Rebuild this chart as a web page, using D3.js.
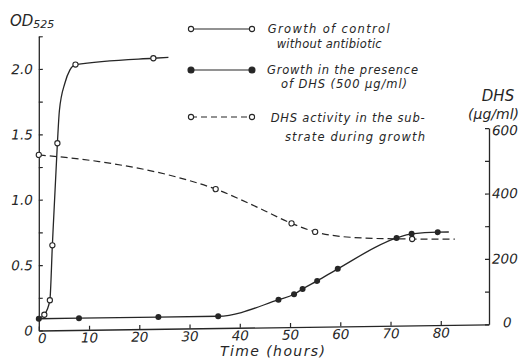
<!DOCTYPE html>
<html><head><meta charset="utf-8">
<script src="https://cdn.jsdelivr.net/npm/d3@7"></script>
<style>
html,body{margin:0;padding:0;background:#fff;}
svg{display:block;font-family:"DejaVu Sans",sans-serif;font-style:italic;}
</style></head><body>
<svg id="chart" width="522" height="363"></svg>
<script>
// ---- data ----
const controlTime = [0, 1.1, 2.2, 2.7, 3.7, 7.3, 22.8];
const controlOD   = [0.09, 0.12, 0.23, 0.65, 1.43, 2.03, 2.07];
const controlCurveTime = [0, 1.1, 2.2, 2.7, 3.7, 4.1, 5.2, 6.2, 7.3, 22.8, 25.8];
const controlCurveOD   = [0.09, 0.12, 0.23, 0.65, 1.43, 1.68, 1.89, 1.99, 2.03, 2.07, 2.075];

const dhsTime = [0, 8, 23.8, 35.7, 47.7, 50.8, 52.5, 55.4, 59.5, 71.2, 74.2, 79.4];
const dhsOD   = [0.09, 0.09, 0.09, 0.09, 0.21, 0.25, 0.29, 0.35, 0.44, 0.67, 0.70, 0.71];
const dhsCurveTime = [0, 8, 23.8, 35.7, 47.7, 50.8, 52.5, 55.4, 59.5, 71.2, 74.2, 79.4, 81.6];
const dhsCurveOD   = [0.09, 0.09, 0.09, 0.09, 0.21, 0.25, 0.29, 0.35, 0.44, 0.67, 0.70, 0.71, 0.71];

const activityTime  = [0, 35.2, 50.3, 55, 74.3];
const activityValue = [537, 425, 317, 290, 264];
const activityCurveTime  = [0, 12, 28, 35.2, 44, 50.3, 55, 62, 74.3, 82.8];
const activityCurveValue = [537, 514, 461, 425, 364, 317, 290, 272, 264, 262];

const timeTicks = [0, 10, 20, 30, 40, 50, 60, 70, 80];
const odTicks = [0, 0.25, 0.5, 0.75, 1, 1.25, 1.5, 1.75, 2, 2.25];
const odLabels = ["0", "", "0.5", "", "1.0", "", "1.5", "", "2.0", ""];
const dhsTicks = [0, 100, 200, 300, 400, 500, 600];
const dhsLabels = ["0", "", "200", "", "400", "", "600"];

const legendLabels = [
  ["Growth of control", "without antibiotic"],
  ["Growth in the presence", "of DHS (500 \u03bcg/ml)"],
  ["DHS activity in the sub-", "strate during growth"]
];

// ---- drawing ----
const INK = "#262626";
const svg = d3.select("#chart");
svg.append("rect").attr("width", 522).attr("height", 363).attr("fill", "#fff");

const x = d3.scaleLinear().domain([0, 89.6]).range([0, 450.2]);
const yL = d3.scaleLinear().domain([0, 2.25]).range([0, -294.2]);
const yR = d3.scaleLinear().domain([0, 600]).range([0, -196.2]);

// slight scan skew of the original
const g = svg.append("g").attr("transform", "translate(38.8,330.5) skewY(-0.79)");

function styleAxis(sel) {
  sel.selectAll("path.domain").attr("stroke", INK).attr("stroke-width", 1.3);
  sel.selectAll(".tick line").attr("stroke", INK).attr("stroke-width", 1.2);
  sel.selectAll(".tick text").attr("fill", INK).style("font-family", '"DejaVu Sans",sans-serif')
     .style("font-style", "italic").style("font-size", "13.5px");
}

const bottom = g.append("g").call(
  d3.axisBottom(x).tickValues(timeTicks).tickSizeInner(-4).tickSizeOuter(0).tickPadding(3).tickFormat(d3.format("d")));
styleAxis(bottom);
bottom.selectAll(".tick text").filter(d => d === 0).attr("x", 3);

const left = g.append("g").call(
  d3.axisLeft(yL).tickValues(odTicks).tickSizeInner(-4).tickSizeOuter(0).tickPadding(6)
    .tickFormat((d, i) => odLabels[i]));
styleAxis(left);

const right = g.append("g").attr("transform", `translate(${x(89.6)},0)`).call(
  d3.axisRight(yR).tickValues(dhsTicks).tickSizeInner(-4).tickSizeOuter(0).tickPadding(3)
    .tickFormat((d, i) => dhsLabels[i]));
styleAxis(right);
right.selectAll(".tick text").filter(d => d === 0).attr("x", 14).attr("dy", "0.2em");
right.selectAll(".tick text").filter(d => d === 600).attr("dy", "0.5em");

// lines
const lineCtrl = d3.line().x(i => x(controlCurveTime[i])).y(i => yL(controlCurveOD[i])).curve(d3.curveMonotoneX);
const lineDhs = d3.line().x(i => x(dhsCurveTime[i])).y(i => yL(dhsCurveOD[i])).curve(d3.curveMonotoneX);
const lineAct = d3.line().x(i => x(activityCurveTime[i])).y(i => yR(activityCurveValue[i])).curve(d3.curveMonotoneX);

g.append("path").attr("d", lineAct(d3.range(activityCurveTime.length)))
  .attr("fill", "none").attr("stroke", INK).attr("stroke-width", 1.2).attr("stroke-dasharray", "7,4");
g.append("path").attr("d", lineCtrl(d3.range(controlCurveTime.length)))
  .attr("fill", "none").attr("stroke", INK).attr("stroke-width", 1.3);
g.append("path").attr("d", lineDhs(d3.range(dhsCurveTime.length)))
  .attr("fill", "none").attr("stroke", INK).attr("stroke-width", 1.3);

// markers
g.selectAll("circle.act").data(d3.range(activityTime.length)).join("circle").attr("class", "act")
  .attr("cx", i => x(activityTime[i])).attr("cy", i => yR(activityValue[i])).attr("r", 2.6)
  .attr("fill", "#fff").attr("stroke", INK).attr("stroke-width", 1.1);
g.selectAll("circle.ctrl").data(d3.range(1, controlTime.length)).join("circle").attr("class", "ctrl")
  .attr("cx", i => x(controlTime[i])).attr("cy", i => yL(controlOD[i])).attr("r", 2.6)
  .attr("fill", "#fff").attr("stroke", INK).attr("stroke-width", 1.1);
g.selectAll("circle.dhs").data(d3.range(dhsTime.length)).join("circle").attr("class", "dhs")
  .attr("cx", i => x(dhsTime[i])).attr("cy", i => yL(dhsOD[i])).attr("r", 3)
  .attr("fill", INK);

// legend
const leg = svg.append("g");
const legY = [29, 70, 117];
const legDash = [null, null, "6,4"];
const legFill = ["#fff", INK, "#fff"];
const legText1 = [[267.7, 33, 122], [267, 74, 151], [270.7, 121.5, 154]];
const legText2 = [[276.7, 48, 105], [281, 88, 126], [285, 141, 140]];
legY.forEach((yy, k) => {
  leg.append("line").attr("x1", 191).attr("x2", 252).attr("y1", yy).attr("y2", yy)
    .attr("stroke", INK).attr("stroke-width", 1.2).attr("stroke-dasharray", legDash[k]);
  [191, 252].forEach(cx => leg.append("circle").attr("cx", cx).attr("cy", yy).attr("r", k === 1 ? 3 : 2.6)
    .attr("fill", legFill[k]).attr("stroke", INK).attr("stroke-width", 1.1));
  leg.append("text").attr("x", legText1[k][0]).attr("y", legText1[k][1]).attr("textLength", legText1[k][2])
    .attr("lengthAdjust", "spacing").attr("font-size", 11.5).attr("fill", INK).text(legendLabels[k][0]);
  leg.append("text").attr("x", legText2[k][0]).attr("y", legText2[k][1]).attr("textLength", legText2[k][2])
    .attr("lengthAdjust", "spacing").attr("font-size", 11.5).attr("fill", INK).text(legendLabels[k][1]);
});

// axis titles
const od = svg.append("text").attr("x", 10).attr("y", 26).attr("fill", INK).attr("font-size", 15);
od.append("tspan").text("OD");
od.append("tspan").attr("dy", 2).attr("font-size", 11).text("525");
svg.append("text").attr("x", 498).attr("y", 101).attr("text-anchor", "middle").attr("fill", INK)
  .attr("font-size", 15).text("DHS");
svg.append("text").attr("x", 493.5).attr("y", 118.5).attr("text-anchor", "middle").attr("fill", INK)
  .attr("font-size", 14).text("(\u03bcg/ml)");
svg.append("text").attr("x", 220).attr("y", 356).attr("textLength", 105).attr("lengthAdjust", "spacing")
  .attr("fill", INK).attr("font-size", 14).text("Time (hours)");
</script>
</body></html>
